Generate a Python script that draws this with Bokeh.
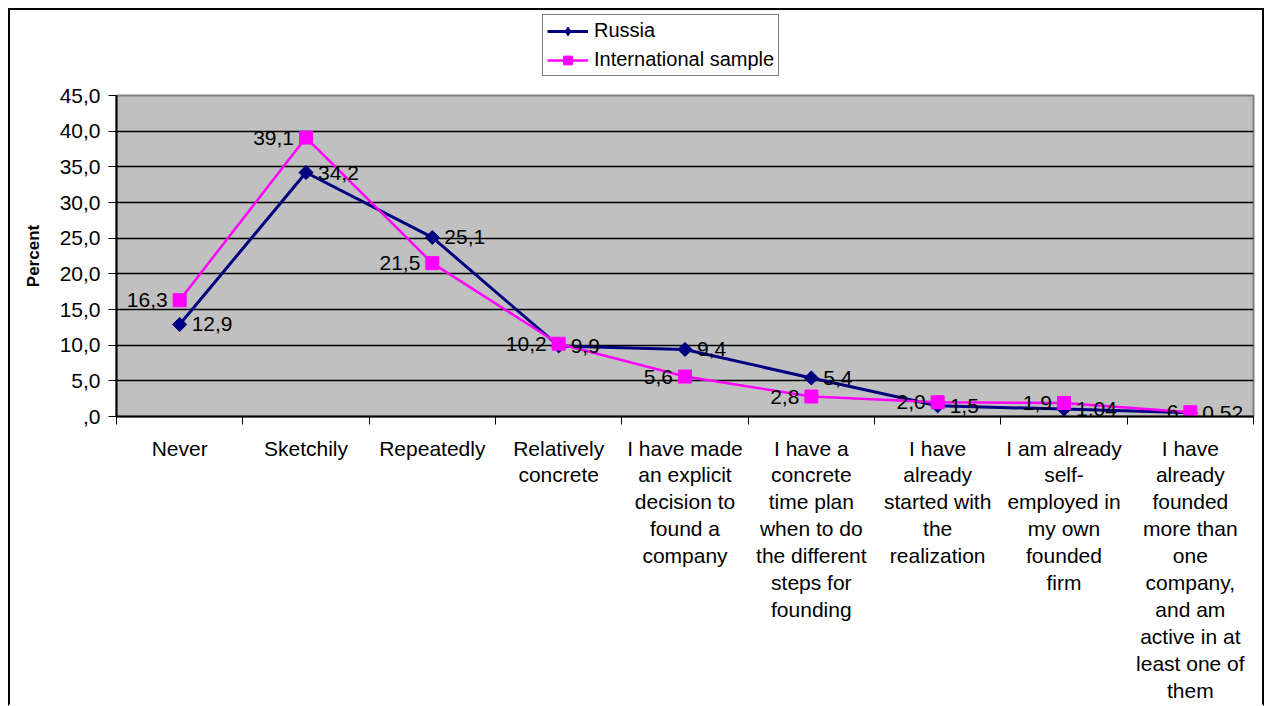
import numpy as np
from bokeh.plotting import figure
from bokeh.layouts import column
from bokeh.models import (ColumnDataSource, FixedTicker, Range1d, Legend, LegendItem, LabelSet)
from bokeh.core.properties import value
from bokeh.embed import file_html
from bokeh.resources import INLINE

categories = [
    "Never",
    "Sketchily",
    "Repeatedly",
    "Relatively\nconcrete",
    "I have made\nan explicit\ndecision to\nfound a\ncompany",
    "I have a\nconcrete\ntime plan\nwhen to do\nthe different\nsteps for\nfounding",
    "I have\nalready\nstarted with\nthe\nrealization",
    "I am already\nself-\nemployed in\nmy own\nfounded\nfirm",
    "I have\nalready\nfounded\nmore than\none\ncompany,\nand am\nactive in at\nleast one of\nthem",
]
russia = [12.9, 34.2, 25.1, 9.9, 9.4, 5.4, 1.5, 1.04, 0.52]
russia_labels = ["12,9", "34,2", "25,1", "9,9", "9,4", "5,4", "1,5", "1,04", "0,52"]
intl = [16.3, 39.1, 21.5, 10.2, 5.6, 2.8, 2.0, 1.9, 0.6]
intl_labels = ["16,3", "39,1", "21,5", "10,2", "5,6", "2,8", "2,0", "1,9", ",6"]
series_names = ["Russia", "International sample"]
y_ticks = [0, 5, 10, 15, 20, 25, 30, 35, 40, 45]
y_tick_labels = [",0", "5,0", "10,0", "15,0", "20,0", "25,0", "30,0", "35,0", "40,0", "45,0"]

FONT = "Liberation Sans"
NAVY = "#000080"
MAGENTA = "#FF00FF"
n = len(categories)
xc = [i + 0.5 for i in range(n)]

src = ColumnDataSource(dict(x=xc, r=russia, rl=russia_labels, i=intl, il=intl_labels))

# ---------------- legend strip (top) ----------------
# the series are drawn here too, but the y range lies below all values, so only
# the legend (which references these renderers) is visible
lf = figure(width=1252, height=73, output_backend="svg", toolbar_location=None,
            x_range=Range1d(0, n), y_range=Range1d(-2, -1), min_border=0)
lf.axis.visible = False
lf.grid.visible = False
lf.outline_line_color = None
lf.background_fill_color = "white"
lf.border_fill_color = "white"
l1 = lf.line("x", "r", source=src, line_color=NAVY, line_width=3)
m1 = lf.scatter("x", "r", source=src, marker="diamond", size=16,
                fill_color=NAVY, line_color=NAVY)
l2 = lf.line("x", "i", source=src, line_color=MAGENTA, line_width=2.5)
m2 = lf.scatter("x", "i", source=src, marker="square", size=13,
                fill_color=MAGENTA, line_color=MAGENTA)
legend = Legend(items=[LegendItem(label=series_names[0], renderers=[l1, m1]),
                       LegendItem(label=series_names[1], renderers=[l2, m2])],
                location=(426, 7), orientation="vertical",
                label_text_font=FONT, label_text_font_size="20px", label_text_color="black",
                glyph_width=41, glyph_height=22, label_height=22, label_standoff=6,
                padding=4, spacing=6, margin=0,
                border_line_color="black", border_line_width=1.5,
                background_fill_color="white", background_fill_alpha=1)
lf.add_layout(legend, "center")

# ---------------- main chart ----------------
p = figure(width=1252, height=621, output_backend="svg", toolbar_location=None,
           x_range=Range1d(0, n), y_range=Range1d(y_ticks[0], y_ticks[-1]),
           min_border_left=106, min_border_right=9, min_border_top=12, min_border_bottom=280)
p.background_fill_color = "#C0C0C0"
p.border_fill_color = "white"
p.outline_line_color = "#808080"
p.outline_line_width = 2

# x axis: minor ticks at category boundaries, labels at centres
p.xaxis.ticker = FixedTicker(ticks=xc, minor_ticks=list(range(n + 1)))
p.xaxis.major_label_overrides = {x: c for x, c in zip(xc, categories)}
p.xaxis.major_tick_line_color = None
p.xaxis.minor_tick_out = 8
p.xaxis.minor_tick_in = 0
p.xaxis.minor_tick_line_color = "black"
p.xaxis.axis_line_color = "black"
p.xaxis.axis_line_width = 2
p.xaxis.major_label_text_font = FONT
p.xaxis.major_label_text_font_size = "21px"
p.xaxis.major_label_text_color = "black"
p.xaxis.major_label_text_line_height = 1.17
p.xaxis.major_label_standoff = 12

p.yaxis.ticker = FixedTicker(ticks=y_ticks)
p.yaxis.major_label_overrides = {t: l for t, l in zip(y_ticks, y_tick_labels)}
p.yaxis.major_tick_out = 8
p.yaxis.major_tick_in = 0
p.yaxis.minor_tick_line_color = None
p.yaxis.axis_line_color = "black"
p.yaxis.axis_line_width = 2
p.yaxis.major_label_text_font = FONT
p.yaxis.major_label_text_font_size = "21px"
p.yaxis.major_label_text_color = "black"
p.yaxis.major_label_standoff = 8
p.yaxis.axis_label = "Percent"
p.yaxis.axis_label_text_font = FONT
p.yaxis.axis_label_text_font_style = "bold"
p.yaxis.axis_label_text_font_size = "17px"
p.yaxis.axis_label_text_color = "black"
p.yaxis.axis_label_standoff = 14

p.xgrid.grid_line_color = None
p.ygrid.ticker = FixedTicker(ticks=y_ticks[1:-1])
p.ygrid.grid_line_color = "black"
p.ygrid.grid_line_width = 1.5

p.line("x", "r", source=src, line_color=NAVY, line_width=3)
p.scatter("x", "r", source=src, marker="square", angle=np.pi / 4, size=10,
          fill_color=NAVY, line_color=NAVY)
p.line("x", "i", source=src, line_color=MAGENTA, line_width=2.5)
p.scatter("x", "i", source=src, marker="square", size=13,
          fill_color=MAGENTA, line_color=MAGENTA)

p.add_layout(LabelSet(x="x", y="r", text="rl", source=src, x_offset=12, text_align="left",
                      text_baseline="middle", text_font=value(FONT), text_font_size="21px",
                      text_color="black"))
p.add_layout(LabelSet(x="x", y="i", text="il", source=src, x_offset=-12, text_align="right",
                      text_baseline="middle", text_font=value(FONT), text_font_size="21px",
                      text_color="black"))

layout = column(lf, p, spacing=0,
                styles={"border-top": "2px solid black", "border-left": "2px solid black",
                        "border-right": "2px solid black", "border-bottom": "2px solid white",
                        "margin-left": "8px", "margin-top": "8px"})

open("out.html", "w").write(file_html(layout, INLINE))
